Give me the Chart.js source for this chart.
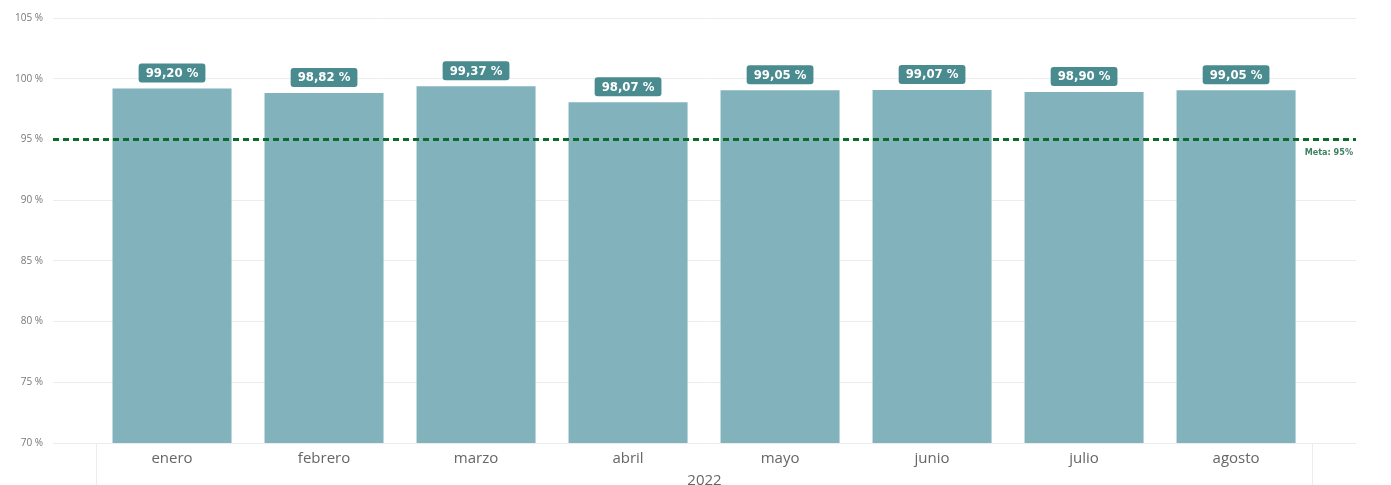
<!DOCTYPE html>
<html>
<head>
<meta charset="utf-8">
<script src="https://cdn.jsdelivr.net/npm/chart.js@4.4.1/dist/chart.umd.min.js"></script>
<style>
html,body{margin:0;padding:0;background:#fff;}
#wrap{width:1391px;height:485px;position:relative;}
</style>
</head>
<body>
<div id="wrap"><canvas id="c" width="1391" height="485"></canvas></div>
<script>
const categories = ['enero','febrero','marzo','abril','mayo','junio','julio','agosto'];
const values = [99.20, 98.82, 99.37, 98.07, 99.05, 99.07, 98.90, 99.05];
const valueLabels = ['99,20 %','98,82 %','99,37 %','98,07 %','99,05 %','99,07 %','98,90 %','99,05 %'];
const yTicks = [70, 75, 80, 85, 90, 95, 100, 105];
const metaValue = 95;
const metaLabel = 'Meta: 95%';
const yearLabel = '2022';

const condensed = '"DejaVu Sans Condensed","Roboto Condensed","Liberation Sans Narrow",Roboto,sans-serif';

const labelPlugin = {
  id: 'labels',
  afterDatasetsDraw(chart) {
    const ctx = chart.ctx;
    const meta = chart.getDatasetMeta(0);
    ctx.save();
    ctx.font = 'bold 13px ' + condensed;
    meta.data.forEach((bar, i) => {
      const txt = valueLabels[i];
      const w = ctx.measureText(txt).width + 14;
      const h = 19;
      const x = bar.x - w / 2;
      const y = bar.y - 6 - h;
      ctx.fillStyle = '#4a8b8f';
      ctx.beginPath();
      ctx.roundRect(x, y, w, h, 3);
      ctx.fill();
      ctx.fillStyle = '#ffffff';
      ctx.textAlign = 'center';
      ctx.textBaseline = 'middle';
      ctx.fillText(txt, bar.x, y + h / 2 + 0.5);
    });
    ctx.restore();
  }
};

const metaPlugin = {
  id: 'meta',
  afterDatasetsDraw(chart) {
    const ctx = chart.ctx;
    const ys = chart.scales.y;
    const a = chart.chartArea;
    const py = ys.getPixelForValue(metaValue);
    ctx.save();
    ctx.strokeStyle = '#0b6a2c';
    ctx.lineWidth = 3;
    ctx.setLineDash([6, 4]);
    ctx.beginPath();
    ctx.moveTo(a.left, py);
    ctx.lineTo(a.right, py);
    ctx.stroke();
    ctx.setLineDash([]);
    ctx.font = 'bold 9px ' + condensed;
    ctx.fillStyle = '#3f7f62';
    ctx.textAlign = 'right';
    ctx.textBaseline = 'middle';
    ctx.fillText(metaLabel, a.right - 3, py + 13);
    ctx.restore();
  }
};

const borderPlugin = {
  id: 'catBorders',
  afterDraw(chart) {
    const ctx = chart.ctx;
    const xs = chart.scales.x;
    const a = chart.chartArea;
    ctx.save();
    ctx.strokeStyle = '#ececec';
    ctx.lineWidth = 1;
    [-0.5, categories.length - 0.5].forEach(v => {
      const px = Math.round(xs.getPixelForValue(v)) + 0.5;
      ctx.beginPath();
      ctx.moveTo(px, a.bottom);
      ctx.lineTo(px, chart.height);
      ctx.stroke();
    });
    ctx.restore();
  }
};

new Chart(document.getElementById('c'), {
  type: 'bar',
  data: {
    datasets: [{
      data: categories.map((c, i) => ({ x: i, y: values[i] })),
      backgroundColor: '#82b2bc',
      borderWidth: 0,
      barPercentage: 0.783,
      categoryPercentage: 1
    }]
  },
  options: {
    responsive: false,
    animation: false,
    layout: { padding: { top: 18, right: 35, left: 0, bottom: 0 } },
    plugins: { legend: { display: false }, tooltip: { enabled: false } },
    scales: {
      x: {
        type: 'linear',
        offset: false,
        min: -0.783,
        max: categories.length - 1 + 0.789,
        afterBuildTicks(scale) { scale.ticks = categories.map((c, i) => ({ value: i })); },
        afterFit(scale) { scale.height = 42; },
        grid: { display: false, drawTicks: false, offset: false },
        border: { display: false },
        ticks: {
          autoSkip: false,
          maxRotation: 0,
          padding: 7,
          color: '#666666',
          font: { family: '"Open Sans","Segoe UI",sans-serif', size: 15 },
          callback: (v) => categories[v]
        },
        title: {
          display: true,
          text: yearLabel,
          color: '#666666',
          padding: { top: 0, bottom: -5 },
          font: { family: '"Open Sans","Segoe UI",sans-serif', size: 15 }
        }
      },
      y: {
        min: 70,
        max: 105,
        afterBuildTicks(scale) { scale.ticks = yTicks.map(v => ({ value: v })); },
        afterFit(scale) { scale.width = 53; },
        grid: { color: '#ececec', drawTicks: false, lineWidth: 1 },
        border: { display: false },
        ticks: {
          padding: 10,
          color: '#777777',
          font: { family: '"Open Sans","Segoe UI",sans-serif', size: 10 },
          callback: (v) => v + ' %'
        }
      }
    }
  },
  plugins: [labelPlugin, metaPlugin, borderPlugin]
});
</script>
</body>
</html>
